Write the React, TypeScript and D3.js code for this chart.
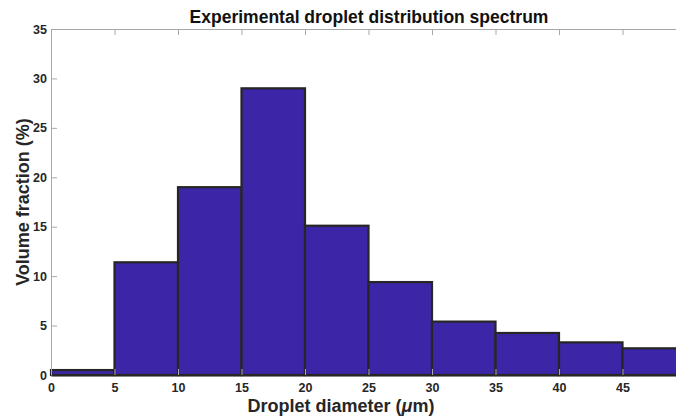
import React, { useEffect, useRef } from "react";
import * as d3 from "d3";

// bin edges (left) and volume fraction per 5 µm bin
const binStarts = [0, 5, 10, 15, 20, 25, 30, 35, 40, 45];
const binWidth = 5;
const volumeFraction = [0.5, 11.4, 19.0, 29.0, 15.1, 9.4, 5.4, 4.25, 3.3, 2.7];
const xTicks = [0, 5, 10, 15, 20, 25, 30, 35, 40, 45];
const yTicks = [0, 5, 10, 15, 20, 25, 30, 35];

const App = () => {
  const svgRef = useRef<SVGSVGElement>(null);

  useEffect(() => {
    const height = 418;
    const margin = { top: 29, left: 51, bottom: 43 };
    const plotRight = 686; // box runs past the right edge of the picture

    const x = d3.scaleLinear().domain([0, 50]).range([margin.left, plotRight]);
    const y = d3.scaleLinear().domain([0, 35]).range([height - margin.bottom, margin.top]);

    const svg = d3.select(svgRef.current);
    svg.selectAll("*").remove();
    const font = "'Liberation Sans', Arial, sans-serif";

    const axisColor = "#a8a8a8";

    // bars
    svg
      .selectAll(".bar")
      .data(binStarts)
      .enter()
      .append("rect")
      .attr("class", "bar")
      .attr("x", (d) => x(d))
      .attr("width", (d) => x(d + binWidth) - x(d))
      .attr("y", (d, i) => y(volumeFraction[i]))
      .attr("height", (d, i) => y(0) - y(volumeFraction[i]))
      .style("fill", "#3c25a6")
      .style("stroke", "#262626")
      .style("stroke-width", 2.2);

    // left axis
    const left = svg.append("g").attr("transform", "translate(" + margin.left + ",0)");
    left.call(d3.axisLeft(y).tickValues(yTicks).tickSizeInner(-6).tickSizeOuter(0).tickPadding(4));
    left.select(".domain").attr("stroke", axisColor);
    left.selectAll(".tick line").attr("stroke", axisColor);
    left
      .selectAll(".tick text")
      .style("font-family", font)
      .style("font-size", "12.5px")
      .style("font-weight", "bold")
      .attr("fill", "#262626");

    // top axis (box line + ticks)
    const top = svg.append("g").attr("transform", "translate(0," + margin.top + ")");
    top.call(d3.axisTop(x).tickValues(xTicks).tickSizeInner(-6).tickSizeOuter(0).tickFormat(() => ""));
    top.select(".domain").attr("stroke", axisColor);
    top.selectAll(".tick line").attr("stroke", axisColor);

    // bottom axis
    const bottom = svg.append("g").attr("transform", "translate(0," + y(0) + ")");
    bottom.call(d3.axisBottom(x).tickValues(xTicks).tickSizeInner(-6).tickSizeOuter(0).tickPadding(8));
    bottom.select(".domain").attr("stroke", "#262626").attr("stroke-width", 2);
    bottom.selectAll(".tick line").attr("stroke", axisColor);
    bottom
      .selectAll(".tick text")
      .style("font-family", font)
      .style("font-size", "12.5px")
      .style("font-weight", "bold")
      .attr("fill", "#262626");

    // title
    svg
      .append("text")
      .attr("x", 369)
      .attr("y", 23)
      .attr("text-anchor", "middle")
      .style("font-family", font)
      .style("font-size", "17.5px")
      .style("font-weight", "bold")
      .attr("fill", "#111")
      .text("Experimental droplet distribution spectrum");

    // x label
    const xl = svg
      .append("text")
      .attr("x", 341)
      .attr("y", 412)
      .attr("text-anchor", "middle")
      .style("font-family", font)
      .style("font-size", "18px")
      .style("font-weight", "bold")
      .attr("fill", "#262626");
    xl.append("tspan").text("Droplet diameter (");
    xl.append("tspan").style("font-style", "italic").text("\u03bc");
    xl.append("tspan").text("m)");

    // y label
    svg
      .append("text")
      .attr("transform", "translate(29," + (margin.top + y(0)) / 2 + ") rotate(-90)")
      .attr("text-anchor", "middle")
      .style("font-family", font)
      .style("font-size", "18px")
      .style("font-weight", "bold")
      .attr("fill", "#262626")
      .text("Volume fraction (%)");
  }, []);

  return (
    <div style={{ position: "absolute", left: 0, top: 0 }}>
      <svg ref={svgRef} width="676" height="418" style={{ display: "block", background: "#fff" }}>
        {/* chart drawn here */}
      </svg>
    </div>
  );
};

export default App;
